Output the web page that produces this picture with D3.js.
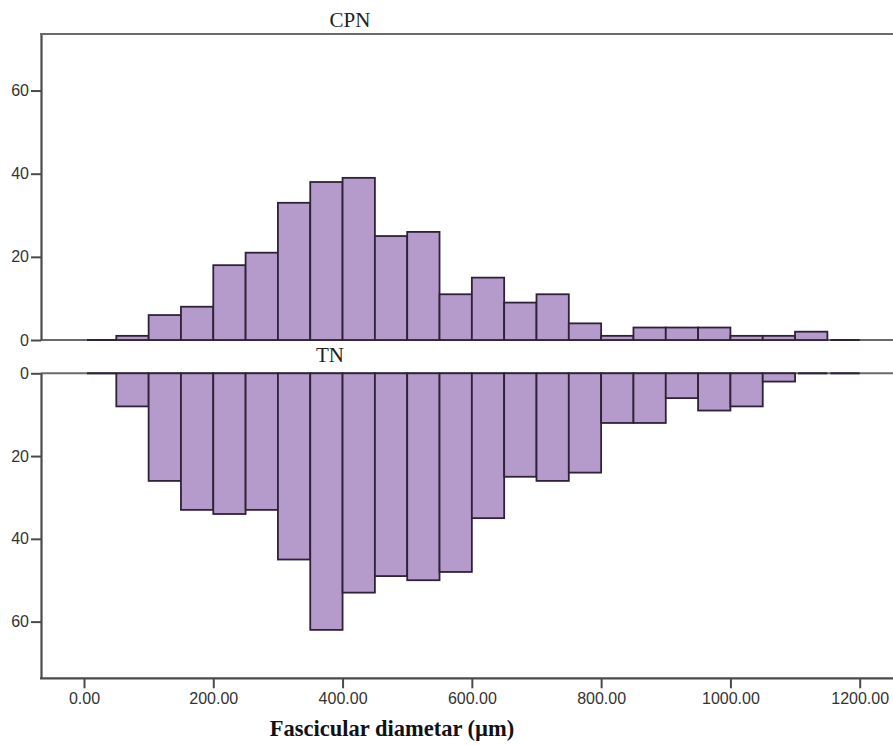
<!DOCTYPE html>
<html><head><meta charset="utf-8">
<script src="https://cdn.jsdelivr.net/npm/d3@7/dist/d3.min.js"></script>
<style>body{margin:0;background:#fff}svg{display:block}</style>
</head><body>
<svg id="c" width="893" height="745"></svg>
<script>
const binStarts = [0,50,100,150,200,250,300,350,400,450,500,550,600,650,700,750,800,850,900,950,1000,1050,1100,1150];
const binWidth = 50;
const cpnCounts = [0,1,6,8,18,21,33,38,39,25,26,11,15,9,11,4,1,3,3,3,1,1,2,0];
const tnCounts  = [0,8,26,33,34,33,45,62,53,49,50,48,35,25,26,24,12,12,6,9,8,2,0,0];
const xTicks = [0,200,400,600,800,1000,1200];
const yTicks = [0,20,40,60];
const panelTitles = ["CPN","TN"];
const xTitle = "Fascicular diametar (\u00b5m)";

const svg = d3.select("#c");
const left = 41, right = 893 + 20;
const x = d3.scaleLinear().domain([0,1200]).range([84, 859.7]);
const yTop = d3.scaleLinear().domain([0,73.6]).range([340,34]);
const yBot = d3.scaleLinear().domain([0,73.7]).range([373.3,678.3]);

const fill = "#b59bcb", stroke = "#2f2238", axisCol = "#4a4a4a";

function drawPanel(y, counts, down) {
  const data = binStarts.map((s,i)=>({s, v:counts[i]}));
  svg.append("line").attr("x1",left).attr("x2",right)
    .attr("y1",y(0)).attr("y2",y(0)).attr("stroke","#6a6a6a").attr("stroke-width",2);
  svg.append("g").selectAll("rect").data(data.filter(d=>d.v>0)).join("rect")
    .attr("x",d=>x(d.s)).attr("width",d=>x(d.s+binWidth)-x(d.s))
    .attr("y",d=>down? y(0): y(d.v))
    .attr("height",d=>Math.abs(y(d.v)-y(0)))
    .attr("fill",fill).attr("stroke",stroke).attr("stroke-width",1.8);
  svg.append("g").selectAll("line").data(data.filter(d=>d.v===0)).join("line")
    .attr("x1",d=>x(d.s)+3).attr("x2",d=>x(d.s+binWidth))
    .attr("y1",y(0)).attr("y2",y(0)).attr("stroke",stroke).attr("stroke-width",2);
  const ax = svg.append("g").attr("transform",`translate(${left},0)`)
    .call(d3.axisLeft(y).tickValues(yTicks).tickSize(10).tickSizeOuter(0).tickPadding(2).tickFormat(d3.format("d")));
  ax.select(".domain").attr("stroke",axisCol).attr("stroke-width",2.2);
  ax.selectAll(".tick line").attr("stroke",axisCol).attr("stroke-width",2);
  ax.selectAll("text").attr("font-family","'Liberation Sans',Arial,sans-serif")
    .attr("font-size",16).attr("fill","#333");
}

drawPanel(yTop, cpnCounts, false);
drawPanel(yBot, tnCounts, true);

svg.append("line").attr("x1",left-1).attr("x2",right).attr("y1",34).attr("y2",34)
  .attr("stroke","#6a6a6a").attr("stroke-width",2.2);

const xa = svg.append("g").attr("transform",`translate(0,${yBot.range()[1]})`)
  .call(d3.axisBottom(x).tickValues(xTicks).tickSize(10).tickSizeOuter(0).tickPadding(4).tickFormat(d3.format(".2f")));
xa.select(".domain").remove();
xa.append("line").attr("x1",left-1).attr("x2",right).attr("stroke",axisCol).attr("stroke-width",2.2);
xa.selectAll(".tick line").attr("stroke",axisCol).attr("stroke-width",2);
xa.selectAll("text").attr("font-family","'Liberation Sans',Arial,sans-serif")
  .attr("font-size",16).attr("fill","#333");

svg.append("text").attr("x",350).attr("y",26.5).attr("text-anchor","middle")
  .attr("font-family","'Liberation Serif','Times New Roman',serif").attr("font-size",21)
  .attr("fill","#222").text(panelTitles[0]);
svg.append("text").attr("x",330).attr("y",361.5).attr("text-anchor","middle")
  .attr("font-family","'Liberation Serif','Times New Roman',serif").attr("font-size",21)
  .attr("fill","#222").text(panelTitles[1]);

svg.append("text").attr("x",392).attr("y",736).attr("text-anchor","middle")
  .attr("font-family","'Liberation Serif','Times New Roman',serif").attr("font-size",22.5)
  .attr("font-weight","bold").attr("fill","#111").text(xTitle);
</script>
</body></html>
